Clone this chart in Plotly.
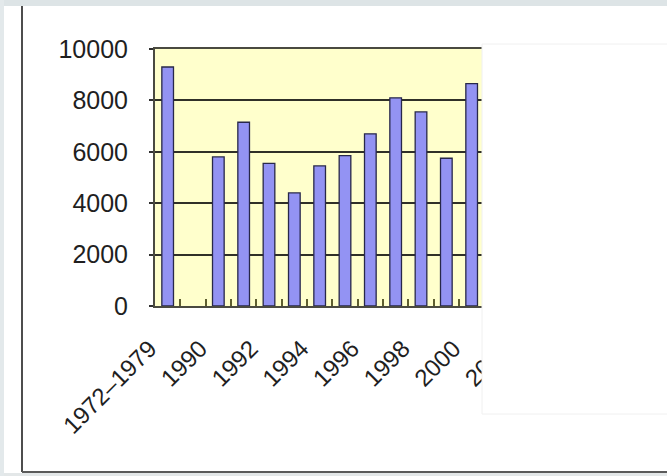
import plotly.graph_objects as go

# Yearly totals; the second slot is an empty period with no data
categories = ["1972–1979", " ", "1990", "1991", "1992", "1993", "1994", "1995",
              "1996", "1997", "1998", "1999", "2000", "2001", "2002"]
values = [9300, None, 5800, 7150, 5550, 4400, 5450, 5850,
          6700, 8100, 7550, 5750, 8650, None, None]
# every second category carries a visible label
tick_text = [c if i % 2 == 0 else "" for i, c in enumerate(categories)]
y_ticks = [0, 2000, 4000, 6000, 8000, 10000]
y_tick_text = ["0", "2000", "4000", "6000", "8000", "10000"]

W, H = 667, 476
L, R, T, B = 155, 535, 49, 306  # plot area in pixels


def px(x):
    return (x - L) / (R - L)


def py(y):
    return (B - y) / (B - T)


fig = go.Figure(go.Bar(
    x=categories, y=values, width=0.46,
    marker=dict(color="#9393f3", line=dict(color="#28284a", width=1.3)),
))

xfont = dict(family="Liberation Sans, Arial, sans-serif", size=24, color="#1f1f1f")
yfont = dict(family="Liberation Sans, Arial, sans-serif", size=25, color="#1f1f1f")

fig.update_layout(
    width=W, height=H,
    margin=dict(l=L, r=W - R, t=T, b=H - B, pad=0),
    paper_bgcolor="white", plot_bgcolor="#ffffcc",
    showlegend=False, bargap=0.5,
    xaxis=dict(
        type="category", range=[-0.5, len(categories) - 0.5],
        tickmode="array", tickvals=categories, ticktext=tick_text,
        tickangle=-45, tickson="boundaries", ticks="inside", ticklen=7,
        tickcolor="#5e5e30", tickwidth=2, showgrid=False,
        showline=True, linecolor="#4a4a40", linewidth=2, mirror=True,
        ticklabelshift=-18, ticklabelstandoff=17, tickfont=xfont,
    ),
    yaxis=dict(
        range=[0, 10000], tickmode="array", tickvals=y_ticks, ticktext=y_tick_text,
        ticks="outside", ticklen=4, tickcolor="#303030", tickwidth=2,
        showgrid=True, gridcolor="#303028", gridwidth=2,
        showline=True, linecolor="#4a4a40", linewidth=2, mirror=True,
        ticklabelstandoff=16, tickfont=yfont, zeroline=False,
    ),
)

shapes = [
    # panel covering the right-hand part of the chart
    dict(type="rect", x0=px(482), x1=px(668), y0=py(44), y1=py(414),
         fillcolor="white", line=dict(color="#f0f0f0", width=1)),
    # page bands around the chart frame
    dict(type="rect", x0=px(0), x1=px(668), y0=py(0), y1=py(6),
         fillcolor="#dde4e6", line=dict(width=0)),
    dict(type="rect", x0=px(0), x1=px(668), y0=py(473), y1=py(477),
         fillcolor="#e3e7e8", line=dict(width=0)),
    dict(type="rect", x0=px(0), x1=px(4), y0=py(0), y1=py(477),
         fillcolor="#e3e9eb", line=dict(width=0)),
    # frame lines
    dict(type="line", x0=px(22), x1=px(22), y0=py(6), y1=py(472),
         line=dict(color="#4d4d4d", width=2)),
    dict(type="line", x0=px(22), x1=px(668), y0=py(472), y1=py(472),
         line=dict(color="#5a5a5a", width=2)),
]
for s in shapes:
    s.update(xref="paper", yref="paper", layer="above")
fig.update_layout(shapes=shapes)

fig.write_html("out.html")
